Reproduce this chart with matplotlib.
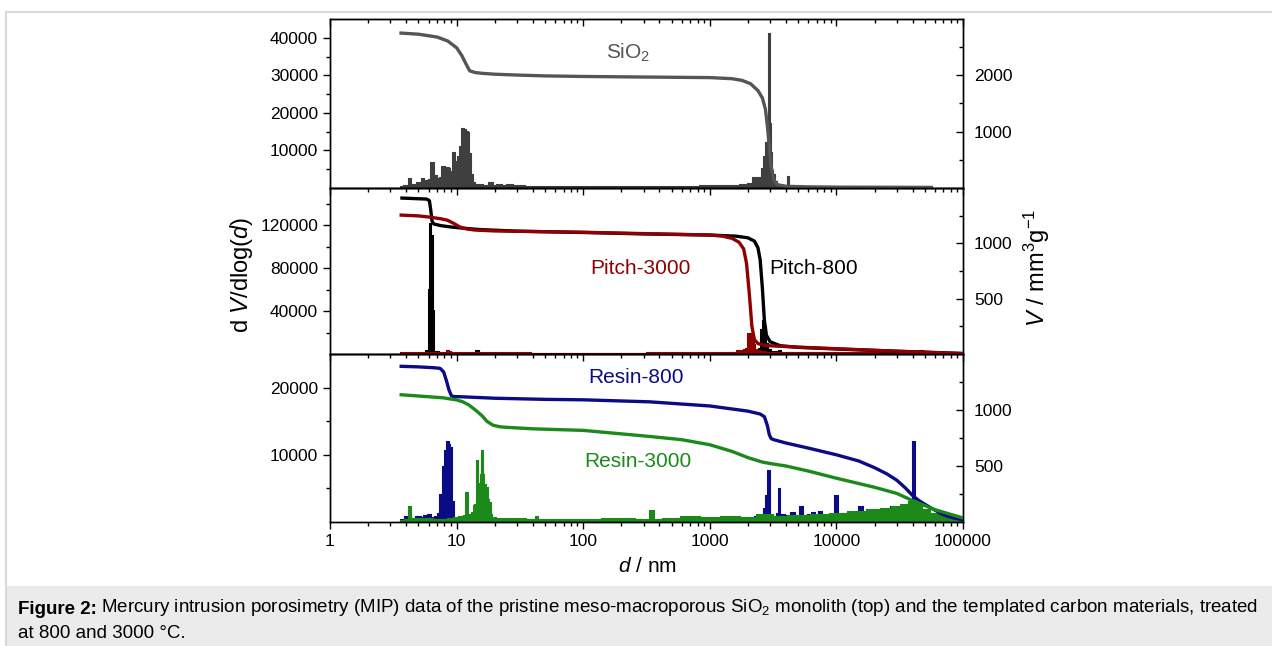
import matplotlib
matplotlib.use("Agg")
import matplotlib.pyplot as plt
import numpy as np
from matplotlib.lines import Line2D
from matplotlib.patches import Rectangle
from matplotlib.text import Annotation
from matplotlib.ticker import FixedLocator, LogLocator, NullFormatter

plt.rcParams["font.family"] = ["Liberation Sans", "DejaVu Sans"]
plt.rcParams["mathtext.fontset"] = "custom"
plt.rcParams["mathtext.rm"] = "Liberation Sans"
plt.rcParams["mathtext.it"] = "Liberation Sans:italic"
plt.rcParams["mathtext.bf"] = "Liberation Sans:bold"

# ---------------- data ----------------
X_TICKS = [1, 10, 100, 1000, 10000, 100000]
X_LABELS = ["1", "10", "100", "1000", "10000", "100000"]

# SiO2: cumulative intrusion V (mm3/g) and dV/dlog(d)
sio2_cum_d = [3.64, 5, 7, 8.5, 10, 11, 12, 12.7, 14, 16, 20, 30, 50, 100, 300, 1000,
              1500, 1800, 2100, 2400, 2600, 2750, 2850, 2950, 3050, 3200, 3400, 4000,
              6000, 10000, 56000]
sio2_cum_v = [2750, 2730, 2680, 2610, 2490, 2350, 2180, 2080, 2050, 2035, 2020, 2005,
              1990, 1980, 1970, 1960, 1940, 1910, 1850, 1730, 1600, 1400, 1100, 750,
              380, 150, 60, 30, 20, 15, 10]
sio2_bar_d = [3.7, 4.0, 4.15, 4.27, 4.4, 4.7, 5.0, 5.25, 5.4, 5.6, 5.9, 6.2, 6.46, 6.7,
              6.9, 7.2, 7.5, 7.9, 8.2, 8.5, 8.8, 9.1, 9.5, 9.8, 10.1, 10.4, 10.8, 11.2,
              11.6, 12.0, 12.4, 12.8, 13.2, 13.7, 14.3, 15.5, 17, 19, 20, 22, 24, 26, 30,
              40, 60, 100, 200, 400, 700, 1000, 1300, 1600, 1900, 2100, 2300, 2500, 2650,
              2750, 2830, 2890, 2950, 3010, 3060, 3120, 3200, 3300, 3450, 3700, 4050,
              4170, 4300, 6000, 10000, 20000, 56000]
sio2_bar_h = [300, 500, 400, 2400, 600, 900, 1200, 1000, 2300, 1500, 1800, 2000, 6700,
              2800, 3200, 2500, 2600, 5600, 4000, 5400, 5000, 4200, 9300, 7000, 6500,
              8300, 11000, 15700, 15500, 15000, 14700, 9000, 3500, 1200, 800, 700, 600,
              1300, 500, 800, 500, 700, 400, 350, 300, 300, 250, 300, 350, 400, 450, 600,
              900, 1100, 2700, 2600, 5000, 8300, 12000, 17900, 41000, 17000, 9300, 4500,
              3500, 1500, 600, 400, 300, 2900, 300, 250, 200, 200, 150]

# Pitch-800 / Pitch-3000
p800_cum_d = [3.7, 5.8, 6.1, 6.25, 6.4, 6.6, 7.5, 9, 11, 15, 30, 100, 300, 1000, 1600,
              2000, 2250, 2400, 2500, 2600, 2700, 2800, 3000, 3600, 5000, 10000, 30000,
              100000]
p800_cum_v = [1409, 1400, 1385, 1300, 1200, 1175, 1160, 1148, 1138, 1125, 1110, 1098,
              1085, 1075, 1065, 1050, 1020, 960, 850, 600, 300, 170, 110, 75, 60, 45, 25, 5]
p3000_cum_d = [3.65, 5, 6.2, 7.5, 8.5, 9.5, 10.6, 12, 14, 20, 50, 100, 300, 1000, 1260,
               1500, 1700, 1850, 1950, 2050, 2150, 2250, 2400, 2600, 3000, 5000, 10000,
               30000, 100000]
p3000_cum_v = [1255, 1248, 1236, 1222, 1208, 1180, 1148, 1130, 1120, 1112, 1105, 1100,
               1088, 1075, 1065, 1045, 1010, 950, 820, 550, 250, 130, 95, 82, 74, 62, 48,
               25, 3]
p800_bar_d = [3.7, 5.5, 6.0, 6.12, 6.25, 6.4, 6.55, 6.7, 8, 14, 14.6, 15.2, 100, 1000,
              2000, 2400, 2500, 2600, 2680, 2750, 2850, 2950, 3100, 3500, 3600, 3700, 5000,
              10000, 30000, 100000]
p800_bar_h = [200, 200, 3000, 60000, 121000, 110000, 40000, 2000, 400, 300, 2500, 300,
              200, 300, 500, 1200, 5000, 22000, 31000, 25000, 9000, 4000, 2000, 1500, 2500,
              1200, 800, 600, 400, 200]
p3000_bar_d = [3.7, 6, 8.2, 8.5, 8.8, 9.2, 15, 100, 1000, 1500, 1800, 1900, 1980, 2050,
               2120, 2180, 2250, 2330, 2420, 2550, 3000, 5000, 10000, 30000, 45000, 47000,
               49000, 100000]
p3000_bar_h = [500, 600, 700, 2500, 1500, 600, 500, 400, 500, 700, 2500, 3500, 5000,
               18600, 19000, 15000, 8000, 4000, 3000, 1500, 1200, 1000, 800, 700, 900,
               2500, 800, 300]

# Resin-800 / Resin-3000
r800_cum_d = [3.65, 5, 6.5, 7.4, 7.9, 8.3, 8.7, 9.1, 9.5, 11, 20, 50, 100, 334, 1000,
              2000, 2500, 2700, 2850, 2950, 3050, 3200, 4000, 6000, 10000, 15000, 20000,
              25000, 30000, 35000, 40000, 45000, 55000, 70000, 85000, 100000]
r800_cum_v = [1390, 1385, 1378, 1372, 1340, 1264, 1180, 1127, 1120, 1118, 1105, 1095,
              1091, 1073, 1036, 990, 964, 940, 860, 780, 745, 735, 705, 660, 600, 545,
              485, 430, 373, 305, 236, 190, 130, 64, 35, 20]
r3000_cum_d = [3.65, 5, 7.8, 10, 11.2, 12.5, 14.4, 16, 17.3, 19.4, 22, 25, 40, 100, 334,
               600, 1000, 1500, 2000, 2600, 3000, 4000, 6000, 10000, 20000, 30000, 40000,
               60000, 100000]
r3000_cum_v = [1136, 1125, 1109, 1090, 1073, 1045, 991, 945, 900, 864, 850, 845, 832, 818,
               764, 735, 690, 630, 575, 535, 522, 500, 455, 391, 310, 255, 191, 110, 36]
r800_bar_d = [3.7, 4.2, 4.6, 5.0, 5.4, 5.7, 6.1, 6.5, 6.9, 7.3, 7.6, 7.9, 8.2, 8.5, 8.8,
              9.1, 9.35, 9.7, 12, 50, 500, 1000, 2000, 2600, 2750, 2850, 2950, 3050, 3300,
              3500, 3580, 3650, 4200, 4500, 5000, 5350, 5600, 6300, 6500, 7000, 7500, 8000,
              9500, 10000, 10500, 12000, 13000, 14500, 15800, 16500, 19000, 20000, 22000,
              23000, 26000, 28000, 30000, 33000, 36000, 38000, 40000, 41000, 42000, 45000,
              50000, 60000, 70000, 80000, 90000, 100000]
r800_bar_h = [300, 700, 500, 700, 600, 900, 1000, 600, 700, 1200, 4000, 8200, 10500,
              11900, 11500, 11000, 3000, 500, 300, 200, 200, 300, 400, 800, 2000, 3800,
              7600, 1000, 700, 1200, 4900, 1000, 900, 1300, 900, 2200, 900, 1000, 1300,
              900, 1500, 700, 800, 3900, 800, 1200, 1000, 1200, 2200, 1000, 1100, 1500,
              1000, 1300, 1600, 2200, 1400, 2000, 2000, 1700, 2500, 11900, 2500, 1800,
              1000, 800, 900, 700, 800, 600]
r3000_bar_d = [3.7, 4.1, 4.3, 4.5, 5, 6, 7, 8, 9, 10, 11, 11.7, 12, 12.4, 13, 13.5, 13.9,
               14.3, 14.6, 15.0, 15.3, 15.7, 16.0, 16.3, 16.9, 17.3, 17.8, 18.3, 18.9,
               19.4, 22, 30, 42, 43, 45, 100, 200, 330, 350, 370, 500, 700, 1000, 1500,
               2000, 2800, 3500, 5000, 8000, 10000, 15000, 20000, 25000, 30000, 35000,
               40000, 45000, 50000, 60000, 80000, 100000]
r3000_bar_h = [200, 300, 2200, 400, 400, 400, 300, 300, 400, 600, 700, 900, 4300, 1000,
               1100, 1400, 2400, 2500, 9100, 5500, 5600, 7000, 10500, 7000, 5500, 5000,
               3300, 2800, 1000, 600, 400, 400, 300, 700, 300, 300, 400, 350, 1600, 350,
               500, 700, 600, 700, 600, 1000, 800, 900, 1000, 1200, 1500, 1800, 2000,
               2300, 2500, 3000, 2600, 1800, 1200, 800, 500]

C_SIO2_LINE = "#555555"
C_SIO2_BAR = "#3f3f3f"
C_P800 = "#000000"
C_P3000 = "#8f0000"
C_R800 = "#0b0b86"
C_R3000 = "#1b8a1b"


def _edges(d):
    """Bin edges at geometric midpoints between neighbouring pore sizes."""
    d = np.asarray(d, float)
    mid = np.sqrt(d[1:] * d[:-1])
    return np.concatenate([[d[0] / 1.02], mid, [d[-1] * 1.02]])


def _bars(ax, d, h, color):
    e = _edges(d)
    ax.stairs(h, e, fill=True, color=color, lw=0)
    ax.stairs(h, e, color=color, lw=1.5)


def _style(ax, tw, ylim, yticks, yminor, rlim, rticks, rminor):
    ax.set_xscale("log")
    ax.set_xlim(1, 100000)
    ax.set_ylim(*ylim)
    ax.set_yticks(yticks)
    ax.yaxis.set_minor_locator(FixedLocator(yminor))
    ax.xaxis.set_major_locator(FixedLocator(X_TICKS))
    ax.xaxis.set_minor_locator(LogLocator(base=10, subs=range(2, 10), numticks=20))
    ax.xaxis.set_minor_formatter(NullFormatter())
    ax.tick_params(axis="x", which="both", direction="out", top=False, bottom=True,
                   labelbottom=False)
    ax.tick_params(axis="y", which="both", direction="out", right=False, labelsize=12.5)
    ax.tick_params(which="major", length=5, width=1)
    ax.tick_params(which="minor", length=3, width=1)
    ax.patch.set_visible(False)
    tw.set_ylim(*rlim)
    tw.set_yticks(rticks)
    tw.yaxis.set_minor_locator(FixedLocator(rminor))
    tw.tick_params(axis="y", which="both", direction="in", labelsize=12.5, pad=8)
    tw.tick_params(which="major", length=5, width=1)
    tw.tick_params(which="minor", length=3, width=1)
    for a in (ax, tw):
        for s in a.spines.values():
            s.set_linewidth(1.0)


fig = plt.figure(figsize=(12.72, 6.46), dpi=100)
L, R = 330 / 1272, 963 / 1272
W = R - L


def _rect(top_px, bot_px):
    return [L, 1 - bot_px / 646, W, (bot_px - top_px) / 646]


ax1 = fig.add_axes(_rect(19, 188))
ax2 = fig.add_axes(_rect(188, 354))
ax3 = fig.add_axes(_rect(354, 522))

# ---- top: SiO2
_bars(ax1, sio2_bar_d, sio2_bar_h, C_SIO2_BAR)
tw1 = ax1.twinx()
tw1.plot(sio2_cum_d, sio2_cum_v, color=C_SIO2_LINE, lw=2.4)
_style(ax1, tw1, (0, 45000), [10000, 20000, 30000, 40000], [5000, 15000, 25000, 35000],
       (0, 3000), [1000, 2000], [500, 1500, 2500])
top = ax1.secondary_xaxis("top")
top.xaxis.set_major_locator(FixedLocator(X_TICKS))
top.xaxis.set_minor_locator(LogLocator(base=10, subs=range(2, 10), numticks=20))
top.xaxis.set_minor_formatter(NullFormatter())
top.tick_params(which="both", direction="in", labeltop=False)
top.tick_params(which="major", length=5, width=1)
top.tick_params(which="minor", length=3, width=1)
ax1.text(226, 36000, "SiO$_\\mathregular{2}$", fontsize=15, color="#555555",
         ha="center", va="center")

# ---- middle: pitch
_bars(ax2, p800_bar_d, p800_bar_h, C_P800)
_bars(ax2, p3000_bar_d, p3000_bar_h, C_P3000)
tw2 = ax2.twinx()
tw2.plot(p800_cum_d, p800_cum_v, color=C_P800, lw=2.4)
tw2.plot(p3000_cum_d, p3000_cum_v, color=C_P3000, lw=2.4)
_style(ax2, tw2, (0, 155000), [40000, 80000, 120000], [20000, 60000, 100000, 140000],
       (0, 1500), [500, 1000], [250, 750, 1250])
ax2.text(281, 80000, "Pitch-3000", fontsize=15, color=C_P3000, ha="center", va="center")
ax2.text(6650, 80000, "Pitch-800", fontsize=15, color=C_P800, ha="center", va="center")

# ---- bottom: resin
_bars(ax3, r800_bar_d, r800_bar_h, C_R800)
_bars(ax3, r3000_bar_d, r3000_bar_h, C_R3000)
tw3 = ax3.twinx()
tw3.plot(r800_cum_d, r800_cum_v, color=C_R800, lw=2.4)
tw3.plot(r3000_cum_d, r3000_cum_v, color=C_R3000, lw=2.4)
_style(ax3, tw3, (0, 25000), [10000, 20000], [5000, 15000],
       (0, 1500), [500, 1000], [250, 750, 1250])
ax3.tick_params(axis="x", labelbottom=True, labelsize=12.5)
ax3.set_xticklabels(X_LABELS)
ax3.text(261, 21500, "Resin-800", fontsize=15, color=C_R800, ha="center", va="center")
ax3.text(270, 8950, "Resin-3000", fontsize=15, color=C_R3000, ha="center", va="center")

# axis titles
fig.text(647 / 1272, 1 - 567 / 646, "$\\it{d}$ / nm", fontsize=15, ha="center", va="center")
fig.text(241 / 1272, 1 - 275 / 646, "d $\\it{V}$/dlog($\\it{d}$)", fontsize=17,
         rotation=90, ha="center", va="center")
fig.text(1037 / 1272, 1 - 268 / 646,
         "$\\it{V}$ / mm$^\\mathregular{3}$g$^\\mathregular{-1}$", fontsize=17,
         rotation=90, ha="center", va="center")

# page frame and caption
fig.add_artist(Line2D([6 / 1272, 1], [1 - 12 / 646] * 2, transform=fig.transFigure,
                      color="#d9d9d9", lw=1.5))
fig.add_artist(Line2D([6 / 1272] * 2, [0, 1 - 12 / 646], transform=fig.transFigure,
                      color="#d9d9d9", lw=1.5))
fig.add_artist(Rectangle((7 / 1272, 0), 1, 60 / 646, transform=fig.transFigure,
                         facecolor="#ebebeb", edgecolor="none"))
head = fig.text(18 / 1272, 1 - 618 / 646, "Figure 2:", fontsize=13.5, weight="bold",
                ha="left", va="bottom")
fig.add_artist(Annotation(
    "Mercury intrusion porosimetry (MIP) data of the pristine meso-macroporous "
    "SiO$_\\mathregular{2}$ monolith (top) and the templated carbon materials, treated",
    xy=(1, 0), xycoords=head, xytext=(4, 0), textcoords="offset pixels",
    fontsize=13.5, ha="left", va="bottom"))
fig.text(18 / 1272, 1 - 642 / 646, "at 800 and 3000 \u00b0C.", fontsize=13.5,
         ha="left", va="bottom")

fig.savefig("out.png", dpi=100)
